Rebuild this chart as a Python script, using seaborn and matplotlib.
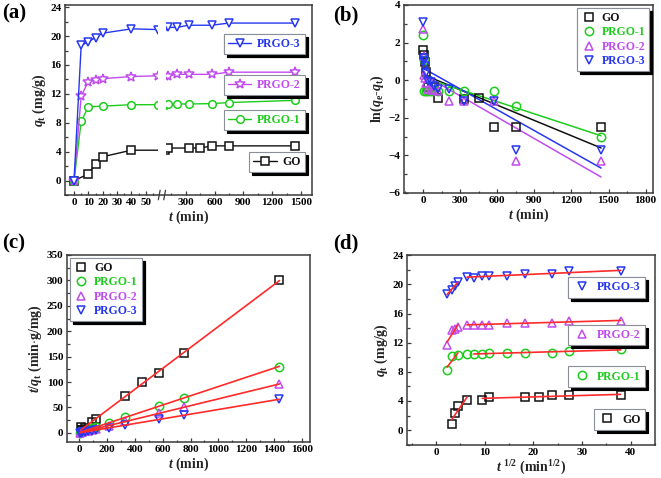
import numpy as np
import matplotlib
matplotlib.use("Agg")
import matplotlib.pyplot as plt
import matplotlib.ticker as mticker
import matplotlib.transforms as mtransforms
import seaborn as sns

# ──────────────────────────────────────────────
# DATA
# ──────────────────────────────────────────────
names = ["GO", "PRGO-1", "PRGO-2", "PRGO-3"]

t_go = [0, 10, 15, 20, 40, 90, 120, 330, 450, 570, 750, 1440]
q_go = [0, 0.9, 2.3, 3.3, 4.2, 4.2, 4.5, 4.5, 4.5, 4.8, 4.8, 4.8]
t_p1 = [0, 5, 10, 20, 40, 60, 90, 120, 210, 330, 570, 750, 1440]
q_p1 = [0, 8.2, 10.2, 10.3, 10.5, 10.5, 10.5, 10.55, 10.6, 10.6, 10.65, 10.8, 11.1]
t_p2 = [0, 5, 10, 15, 20, 40, 60, 90, 120, 210, 330, 570, 750, 1440]
q_p2 = [0, 11.7, 13.7, 13.9, 14.1, 14.4, 14.5, 14.5, 14.5, 14.7, 14.7, 14.7, 15.0, 15.0]
t_p3 = [0, 5, 10, 15, 20, 40, 60, 90, 120, 210, 330, 570, 750, 1440]
q_p3 = [0, 18.7, 19.2, 19.8, 20.4, 21.0, 20.9, 21.1, 21.2, 21.2, 21.5, 21.5, 21.8, 21.8]

# (b) pseudo-first-order, ln(qe - qt), same time points as above
ln_go = [1.58, 1.35, 0.95, 0.45, -0.35, -0.35, -0.97, -1.0, -0.97, -2.5, -2.5, -2.5]
ln_p1 = [2.4, 1.1, -0.6, -0.55, -0.55, -0.55, -0.5, -0.55, -0.55, -0.55, -0.6, -1.38, -3.04]
ln_p2 = [2.73, 1.3, 0.3, 0.1, -0.15, -0.45, -0.5, -0.5, -0.55, -1.12, -1.1, -1.1, -4.3, -4.3]
ln_p3 = [3.08, 1.2, 1.0, 0.75, 0.4, -0.05, -0.1, -0.3, -0.45, -0.45, -1.12, -1.12, -3.7, -3.7]

# (d) first linear stage ends / second stage starts (min)
stage1_end = [40, 20, 20, 20]
stage2_start = [90, 60, 40, 40]

times = [t_go, t_p1, t_p2, t_p3]
qs = [q_go, q_p1, q_p2, q_p3]
lns = [ln_go, ln_p1, ln_p2, ln_p3]

colors = ["#111111", "#1ECC1E", "#C04CEE", "#2637F0"]
markers_a = ["s", "o", "*", "v"]
markers = ["s", "o", "^", "v"]
RED = "#FF2A2A"

TICK_FS = 8
LABEL_FS = 10
LEG_FS = 8.5

# ──────────────────────────────────────────────
# STYLE
# ──────────────────────────────────────────────
sns.set_theme(style="ticks")
plt.rcParams.update({
    "font.family": ["Liberation Serif", "DejaVu Serif"],
    "font.weight": "bold",
    "axes.labelweight": "bold",
    "mathtext.fontset": "custom",
    "mathtext.rm": "Liberation Serif:bold",
    "mathtext.it": "Liberation Serif:italic:bold",
    "mathtext.bf": "Liberation Serif:bold",
    "text.color": "black",
})

fig = plt.figure(figsize=(6.61, 4.78), dpi=100)


def panel(l, r, t, b):
    return fig.add_axes([l / 661, 1 - b / 478, (r - l) / 661, (b - t) / 478])


def style(ax):
    for s in ax.spines.values():
        s.set_linewidth(1.1)
        s.set_color("#3a3a3a")
    ax.tick_params(which="both", direction="in", width=0.9, color="#3a3a3a",
                   labelcolor="black", labelsize=TICK_FS, pad=2.5,
                   top=False, right=False)
    ax.tick_params(which="major", length=3)
    ax.tick_params(which="minor", length=1.8)
    for lab in ax.get_xticklabels() + ax.get_yticklabels():
        lab.set_fontweight("bold")


def boxed_legend(ax, handles, labels, **kw):
    leg = ax.legend(handles, labels, fontsize=LEG_FS, frameon=True, fancybox=False,
                    framealpha=1, edgecolor="#8a8f99", labelcolor="linecolor",
                    shadow={"ox": 2.2, "oy": -2.2, "facecolor": "black",
                            "edgecolor": "black", "alpha": 1},
                    borderpad=0.35, handletextpad=0.5, borderaxespad=0, **kw)
    leg.get_frame().set_linewidth(0.8)
    for txt in leg.get_texts():
        txt.set_fontweight("bold")
    ax.add_artist(leg)
    return leg


ax_a = panel(65, 312, 5, 195)
ax_b = panel(404, 653, 5, 193)
ax_c = panel(67, 310, 255, 442)
ax_d = panel(407, 655, 255, 445)

# ──────────────────────────────────────────────
# (a) qt vs t, broken time axis
# ──────────────────────────────────────────────
knots_t = [-100, 58.6, 94, 3000]
knots_u = [-143.3, 84, 92, 83 + 0.096 * 3000]


def fwd(t):
    return np.interp(t, knots_t, knots_u)


def inv(u):
    return np.interp(u, knots_u, knots_t)


ax_a.set_xscale("function", functions=(fwd, inv))
handles_a = []
for t, q, c, m, n in zip(times, qs, colors, markers_a, names):
    sns.lineplot(x=t, y=q, ax=ax_a, color=c, lw=1.0, marker=m,
                 ms=7.5 if m == "*" else 5.5, mfc="white", mec=c, mew=1.1,
                 estimator=None, sort=False)
    handles_a.append(ax_a.lines[-1])
ax_a.axvspan(58.6, 94, color="white", zorder=2.3, lw=0)
blend = mtransforms.blended_transform_factory(ax_a.transData, ax_a.transAxes)
for xb in (64, 88):
    ax_a.plot([xb - 4, xb + 4], [-0.025, 0.025], transform=blend, color="#3a3a3a",
              lw=0.9, clip_on=False, zorder=3)
ax_a.set_xlim(-6.3, 1615)
ax_a.set_ylim(-2, 24.3)
ax_a.xaxis.set_major_locator(mticker.FixedLocator([0, 10, 20, 30, 40, 50, 300, 600, 900, 1200, 1500]))
ax_a.xaxis.set_minor_locator(mticker.FixedLocator([5, 15, 25, 35, 45, 55, 150, 450, 750, 1050, 1350]))
ax_a.xaxis.set_major_formatter(mticker.FormatStrFormatter("%d"))
ax_a.yaxis.set_major_locator(mticker.MultipleLocator(4))
ax_a.yaxis.set_minor_locator(mticker.MultipleLocator(2))
ax_a.set_xlabel(r"$t$ (min)", fontsize=LABEL_FS, labelpad=1)
ax_a.set_ylabel(r"$q_{\rm t}$ (mg/g)", fontsize=LABEL_FS, labelpad=2)
style(ax_a)
leg_pos_a = [0.174, 0.395, 0.579, 0.795]
for h, n, yy in zip(handles_a, names, leg_pos_a):
    boxed_legend(ax_a, [h], [n], loc="center right", bbox_to_anchor=(0.972, yy),
                 handlelength=2.0)

# ──────────────────────────────────────────────
# (b) pseudo-first-order
# ──────────────────────────────────────────────
handles_b = []
for t, y, c, m in zip(times, lns, colors, markers):
    sns.regplot(x=np.array(t, float), y=np.array(y, float), ax=ax_b, scatter=False,
                ci=None, truncate=True, line_kws=dict(color=c, lw=1.1))
for t, y, c, m in zip(times, lns, colors, markers):
    h, = ax_b.plot(t, y, ls="none", marker=m, ms=6, mfc="none", mec=c, mew=1.1, color=c)
    handles_b.append(h)
ax_b.set_xlim(-155, 1860)
ax_b.set_ylim(-6, 4)
ax_b.xaxis.set_major_locator(mticker.MultipleLocator(300))
ax_b.xaxis.set_minor_locator(mticker.MultipleLocator(150))
ax_b.yaxis.set_major_locator(mticker.MultipleLocator(2))
ax_b.yaxis.set_minor_locator(mticker.MultipleLocator(1))
ax_b.set_xlabel(r"$t$ (min)", fontsize=LABEL_FS, labelpad=1)
ax_b.set_ylabel(r"ln($q_{\rm e}$-$q_{\rm t}$)", fontsize=LABEL_FS, labelpad=2)
style(ax_b)
boxed_legend(ax_b, handles_b, names, loc="upper right", bbox_to_anchor=(0.985, 0.985),
             handlelength=1.2, labelspacing=0.2)

# ──────────────────────────────────────────────
# (c) pseudo-second-order, t/qt vs t
# ──────────────────────────────────────────────
handles_c = []
for t, q, c, m in zip(times, qs, colors, markers):
    tt = np.array(t[1:], float)
    tq = tt / np.array(q[1:], float)
    sns.regplot(x=tt, y=tq, ax=ax_c, scatter=False, ci=None, truncate=True,
                line_kws=dict(color=RED, lw=1.2))
    h, = ax_c.plot(tt, tq, ls="none", marker=m, ms=6, mfc="none", mec=c, mew=1.1,
                   color=c, zorder=1.9)
    handles_c.append(h)
ax_c.set_xlim(-90, 1660)
ax_c.set_ylim(-18, 350)
ax_c.xaxis.set_major_locator(mticker.MultipleLocator(200))
ax_c.xaxis.set_minor_locator(mticker.MultipleLocator(100))
ax_c.yaxis.set_major_locator(mticker.MultipleLocator(50))
ax_c.yaxis.set_minor_locator(mticker.MultipleLocator(25))
ax_c.set_xlabel(r"$t$ (min)", fontsize=LABEL_FS, labelpad=1)
ax_c.set_ylabel(r"$t/q_{\rm t}$ (min$\cdot$g/mg)", fontsize=LABEL_FS, labelpad=2)
style(ax_c)
boxed_legend(ax_c, handles_c, names, loc="upper left", bbox_to_anchor=(0.012, 0.985),
             handlelength=1.2, labelspacing=0.2)

# ──────────────────────────────────────────────
# (d) intraparticle diffusion, qt vs t^1/2
# ──────────────────────────────────────────────
handles_d = []
for t, q, c, m, e1, s2 in zip(times, qs, colors, markers, stage1_end, stage2_start):
    tt = np.array(t[1:], float)
    qq = np.array(q[1:], float)
    st = np.sqrt(tt)
    h, = ax_d.plot(st, qq, ls="none", marker=m, ms=6, mfc="none", mec=c, mew=1.1, color=c)
    handles_d.append(h)
    for sel in (tt <= e1, tt >= s2):
        sns.regplot(x=st[sel], y=qq[sel], ax=ax_d, scatter=False, ci=None, truncate=True,
                    line_kws=dict(color=RED, lw=1.2))
ax_d.set_xlim(-6, 45)
ax_d.set_ylim(-2.05, 24.05)
ax_d.xaxis.set_major_locator(mticker.MultipleLocator(10))
ax_d.xaxis.set_minor_locator(mticker.MultipleLocator(5))
ax_d.yaxis.set_major_locator(mticker.MultipleLocator(4))
ax_d.yaxis.set_minor_locator(mticker.MultipleLocator(2))
ax_d.set_xlabel(r"$t^{\ 1/2}$ (min$^{1/2}$)", fontsize=LABEL_FS, labelpad=1)
ax_d.set_ylabel(r"$q_{\rm t}$ (mg/g)", fontsize=LABEL_FS, labelpad=2)
style(ax_d)
leg_pos_d = [(0.96, 0.134), (0.96, 0.36), (0.96, 0.579), (0.96, 0.829)]
for h, n, pos in zip(handles_d, names, leg_pos_d):
    boxed_legend(ax_d, [h], [n], loc="center right", bbox_to_anchor=pos,
                 handlelength=1.6)

# panel letters
for x, y, s in [(2, 3, "(a)"), (333, 5, "(b)"), (2, 233, "(c)"), (333, 233, "(d)")]:
    fig.text(x / 661, 1 - y / 478, s, fontsize=15, fontweight="bold", va="top", ha="left")

fig.savefig("out.png", dpi=100, facecolor="white")
